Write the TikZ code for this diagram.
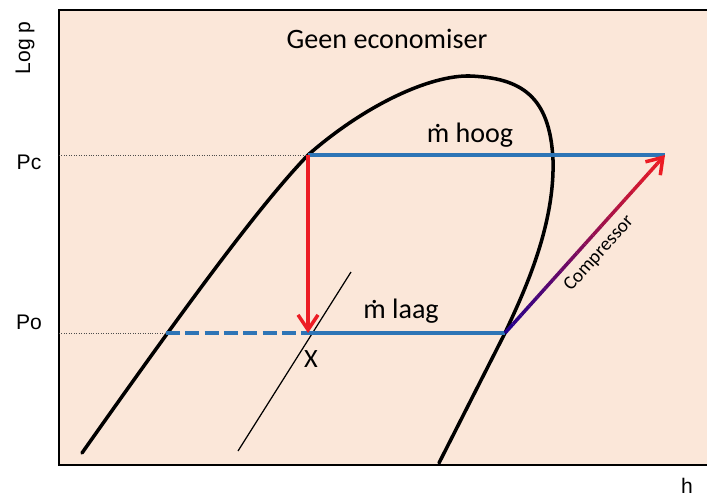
\documentclass[tikz,border=0pt]{standalone}
\usepackage{fontspec}
\setmainfont{Carlito}
\setsansfont{Liberation Sans}
\usetikzlibrary{arrows.meta, calc}
\definecolor{diagbg}{RGB}{251,231,217}
\definecolor{isoblue}{RGB}{46,117,182}
\definecolor{exred}{RGB}{236,28,36}
\definecolor{compblue}{RGB}{35,0,140}
\newcommand{\mdot}{{\ooalign{m\cr\hidewidth\raisebox{0.5em}{.}\hidewidth\cr}}}

\begin{document}
\begin{tikzpicture}[x=0.02cm, y=-0.02cm,
    axislabel/.style={font=\sffamily\fontsize{12}{14}\selectfont, inner sep=0pt},
    title/.style={font=\fontsize{16}{19}\selectfont, inner sep=0pt},
    flowlabel/.style={font=\fontsize{16}{19}\selectfont, inner sep=0pt, anchor=base},
    dome/.style={draw=black, line width=2pt},
    quality/.style={draw=black, line width=0.7pt},
    isobar/.style={draw=isoblue, line width=2pt},
    guide/.style={draw=black!70, densely dotted, line width=0.4pt},
    expansion/.style={draw=exred, line width=2pt, -{Straight Barb[length=3mm, width=4mm]}},
    compline/.style={line width=2pt}
]
    \useasboundingbox (0,0) rectangle (707,497);
    % Frame
    \fill[diagbg] (59,10) rectangle (707,465);
    \draw[line width=0.8pt] (707,10) -- (59,10) -- (59,465) -- (707,465);

    % Axis labels
    \node (logp) [axislabel, rotate=90] at (25,48) {Log p};
    \node (pc) [axislabel] at (29,162) {Pc};
    \node (po) [axislabel] at (29,322) {Po};
    \node (henth) [axislabel] at (687,486) {h};

    % Points of the cycle
    \coordinate (pcaxis) at (59,155);
    \coordinate (poaxis) at (59,333);
    \coordinate (liqhigh) at (308,155);
    \coordinate (liqlow) at (166,333);
    \coordinate (xpoint) at (308,333);
    \coordinate (vaplow) at (505,333);
    \coordinate (discharge) at (665,155);
    \coordinate (xbottom) at (238,451);
    \coordinate (xtop) at (351,272);

    % Saturation dome
    \draw[dome, line cap=round] (82,453) .. controls (190,300) and (260,205) .. (liqhigh)
        .. controls (365,105) and (430,75) .. (470,76)
        .. controls (520,78) and (550,95) .. (553,160)
        .. controls (555,230) and (520,300) .. (vaplow) -- (439,463);

    % Quality line
    \draw[quality] (xbottom) -- (xtop);

    % Guides to the pressure axis
    \draw[guide] (pcaxis) -- (liqhigh);
    \draw[guide] (poaxis) -- (liqlow);

    % Isobars
    \draw[isobar] (liqhigh) -- (discharge);
    \draw[isobar, dash pattern=on 8pt off 3pt] (liqlow) -- (xpoint);
    \draw[isobar] (xpoint) -- (vaplow);

    % Expansion
    \draw[expansion] (liqhigh) -- (xpoint);

    % Compressor, blue to red
    \foreach \i in {0,...,18} {
        \pgfmathsetmacro{\mixpct}{100*\i/19}
        \draw[compline, color=exred!\mixpct!compblue] ($(vaplow)!{\i/20}!(discharge)$) -- ($(vaplow)!{(\i+1)/20}!(discharge)$);
    }
    \draw[compline, color=exred, -{Straight Barb[length=3mm, width=4mm]}] ($(vaplow)!0.95!(discharge)$) -- (discharge);
    \path (vaplow) -- node[sloped, below=5pt, pos=0.51, font=\fontsize{11}{13}\selectfont, inner sep=0pt] {Compressor} (discharge);

    % Texts
    \node (titletext) [title] at (387,39) {Geen economiser};
    \node (mhoog) [flowlabel] at (470,142) {\mdot{} hoog};
    \node (mlaag) [flowlabel] at (401,318) {\mdot{} laag};
    \node (xlabel) [flowlabel, font=\fontsize{15}{18}\selectfont] at (311,367) {X};
\end{tikzpicture}
\end{document}
